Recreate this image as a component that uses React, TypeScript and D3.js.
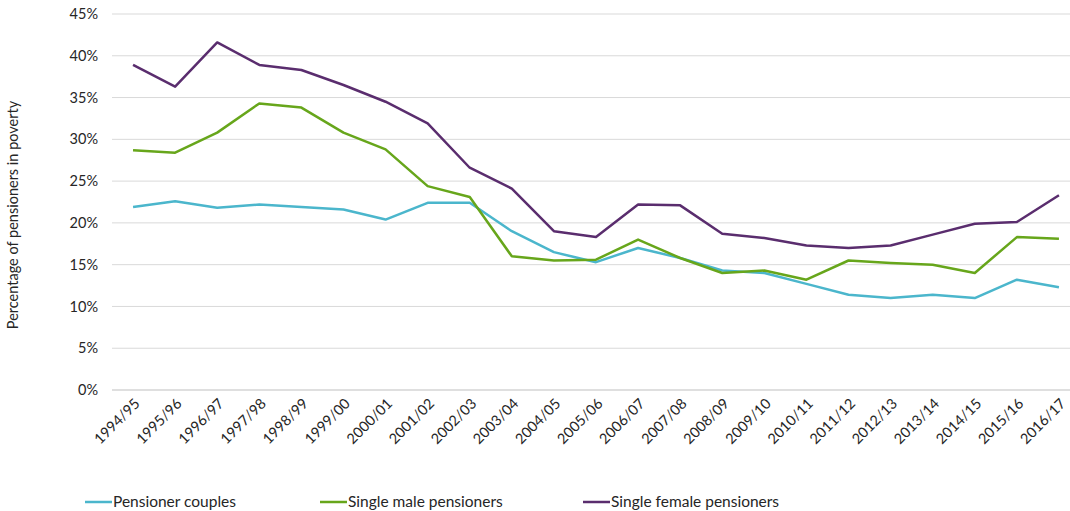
import * as d3 from 'd3';

const years = ['1994/95','1995/96','1996/97','1997/98','1998/99','1999/00','2000/01','2001/02','2002/03','2003/04','2004/05','2005/06','2006/07','2007/08','2008/09','2009/10','2010/11','2011/12','2012/13','2013/14','2014/15','2015/16','2016/17'];
const couples = [21.9,22.6,21.8,22.2,21.9,21.6,20.4,22.4,22.4,19.0,16.5,15.3,17.0,15.8,14.3,14.0,12.7,11.4,11.0,11.4,11.0,13.2,12.3];
const singleMale = [28.7,28.4,30.8,34.3,33.8,30.8,28.8,24.4,23.1,16.0,15.5,15.6,18.0,15.8,14.0,14.3,13.2,15.5,15.2,15.0,14.0,18.3,18.1];
const singleFemale = [38.9,36.3,41.6,38.9,38.3,36.5,34.5,31.9,26.6,24.1,19.0,18.3,22.2,22.1,18.7,18.2,17.3,17.0,17.3,18.6,19.9,20.1,23.3];
const yTicks = [0,5,10,15,20,25,30,35,40,45];

const series = [
  { name: 'Pensioner couples', values: couples, color: '#4bb6cc', lx: 85 },
  { name: 'Single male pensioners', values: singleMale, color: '#67a61b', lx: 320 },
  { name: 'Single female pensioners', values: singleFemale, color: '#5a2d6e', lx: 583 },
];

const W = 1070, H = 511;
const FONT = 'Lato, "Liberation Sans", Arial, sans-serif';
const FS = 15.5;

export default function App() {
  const x = d3.scaleBand<string>().domain(years).range([112, 1080]);
  const y = d3.scaleLinear().domain([0, 45]).range([390, 14]);
  const cx = (i: number) => x(years[i])! + x.bandwidth() / 2;
  const line = d3.line<number>().x((_, i) => cx(i)).y(v => y(v));
  return (
    <svg width={W} height={H} style={{ position: 'absolute', left: 0, top: 0 }} fontFamily={FONT}>
      <rect width={W} height={H} fill="#fff" />
      {yTicks.map(t => (
        <g key={t}>
          <line x1={112} x2={1080} y1={y(t)} y2={y(t)} stroke={t === 0 ? '#bfbfbf' : '#d9d9d9'} />
          <text x={98} y={y(t)} dy="0.35em" textAnchor="end" fontSize={FS - 1} fill="#262626">{t}%</text>
        </g>
      ))}
      {years.map((yr, i) => (
        <text key={yr} transform={`translate(${cx(i) + 4},${401}) rotate(-45)`} textAnchor="end" fontSize={FS - 1} fill="#262626" dy="0.35em">{yr}</text>
      ))}
      <text transform="translate(18,215) rotate(-90)" textAnchor="middle" fontSize={FS - 1} fill="#262626">Percentage of pensioners in poverty</text>
      {series.map(s => (
        <path key={s.name} d={line(s.values)!} fill="none" stroke={s.color} strokeWidth={2.5} strokeLinejoin="round" />
      ))}
      {series.map(s => (
        <g key={s.name + 'l'}>
          <line x1={s.lx} x2={s.lx + 27} y1={502} y2={502} stroke={s.color} strokeWidth={2.5} />
          <text x={s.lx + 28} y={502} dy="0.35em" fontSize={FS} fill="#262626">{s.name}</text>
        </g>
      ))}
    </svg>
  );
}
